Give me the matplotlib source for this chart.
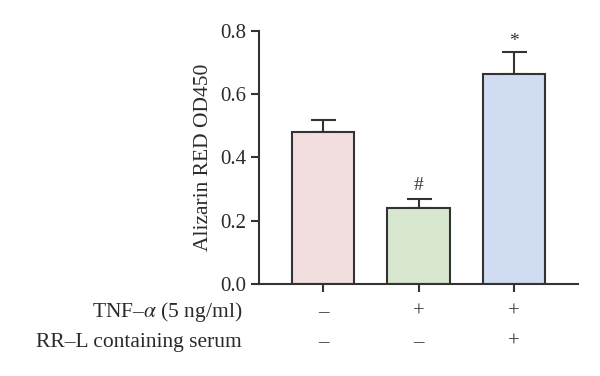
import matplotlib
matplotlib.use("Agg")
import matplotlib.pyplot as plt
import matplotlib.transforms as mtransforms

plt.rcParams['font.family'] = ['Liberation Serif', 'DejaVu Serif']
plt.rcParams['mathtext.fontset'] = 'stix'

groups = ["Control", "TNF", "TNF+RR-L"]
means = [0.481, 0.241, 0.663]
errors = [0.036, 0.027, 0.069]
colors = ["#f2dede", "#d8e7cf", "#cfdcf2"]
marks = ["", "#", "*"]
row_labels = [r"TNF–$\it{\alpha}$ (5 ng/ml)", "RR–L containing serum"]
row_signs = [["–", "+", "+"], ["–", "–", "+"]]
yticks = [0.0, 0.2, 0.4, 0.6, 0.8]

fig = plt.figure(figsize=(6.0, 3.76), dpi=100)
ax = fig.add_axes([0.4317, 0.2447, 0.5317, 0.673])

x = list(range(len(groups)))
ax.bar(x, means, width=0.65, color=colors, edgecolor="#333333", linewidth=1.5, zorder=2)
ax.errorbar(x, means, yerr=[[0]*3, errors], fmt="none", ecolor="#333333",
            elinewidth=1.5, capsize=9, capthick=1.5, zorder=1)

for xi, m, e, mk in zip(x, means, errors, marks):
    if mk:
        off = 10 if mk == "#" else 8
        ax.annotate(mk, (xi, m + e), xytext=(0, off), textcoords="offset points",
                    ha="center", va="center", fontsize=14, color="#333333")

ax.set_xlim(-0.67, 2.67)
ax.set_ylim(0, 0.8)
ax.set_yticks(yticks)
ax.set_yticklabels([f"{v:.1f}" for v in yticks])
ax.set_xticks(x)
ax.set_xticklabels([])
ax.set_ylabel("Alizarin RED OD450", fontsize=15.5, color="#2a2a2a", labelpad=5)

for s in ["top", "right"]:
    ax.spines[s].set_visible(False)
for s in ["left", "bottom"]:
    ax.spines[s].set_linewidth(1.5)
    ax.spines[s].set_color("#333333")
ax.tick_params(axis="both", direction="out", length=6, width=1.5, color="#333333",
               labelsize=15, labelcolor="#2a2a2a", pad=3)

trans = mtransforms.blended_transform_factory(ax.transData, fig.transFigure)
row_y = [0.157, 0.077]
for label, signs, yy in zip(row_labels, row_signs, row_y):
    fig.text(242/600, yy, label, ha="right", va="baseline", fontsize=15.5, color="#2a2a2a")
    for xi, s in zip(x, signs):
        ax.text(xi, yy, s, transform=trans, ha="center", va="baseline", fontsize=15,
                color="#333333", clip_on=False)

fig.savefig("out.png", dpi=100)
